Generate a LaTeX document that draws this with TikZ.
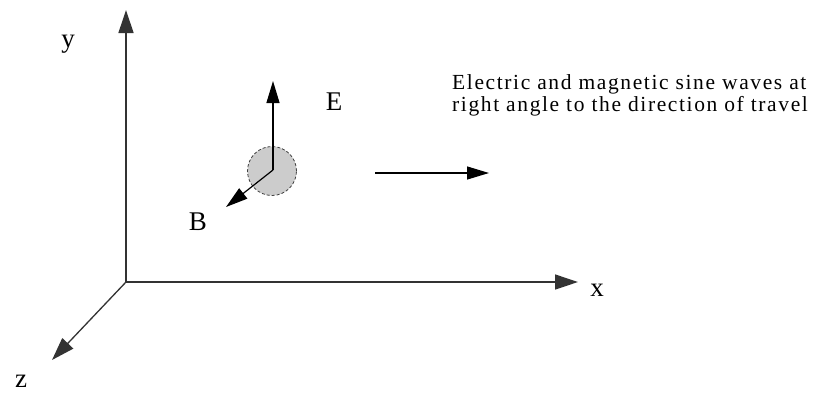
\documentclass[tikz,border=0pt]{standalone}
\usepackage{fontspec}
\setmainfont{Liberation Serif}
\newfontfamily\spacedserif[LetterSpace=7.5]{Liberation Serif}
\usetikzlibrary{arrows.meta}
\begin{document}
\begin{tikzpicture}[x=1pt,y=-1pt,
  axis/.style={line width=1.3pt,draw=black!80,-{Triangle[length=23pt,width=15pt]}},
  vec/.style={line width=1.2pt,-{Triangle[length=22pt,width=13pt]}},
  lab/.style={font=\fontsize{27}{27}\selectfont,inner sep=0pt},
  note/.style={font=\spacedserif\fontsize{21.5}{22}\selectfont,inner sep=0pt,align=left,anchor=north west}]
\useasboundingbox (0,0) rectangle (819,405);
\coordinate (O) at (126,282); \coordinate (X) at (578,282);
\coordinate (Y) at (126,10); \coordinate (Z) at (52,360);
\coordinate (C) at (273,170); \coordinate (Et) at (273,81); \coordinate (Bt) at (226,207);
\coordinate (Ts) at (375,173); \coordinate (Te) at (489,173);
\draw[axis] (O)--(X);
\draw[axis] (O)--(Y);
\draw[axis] (O)--(Z);
\node[lab] (xl) at (597,290) {x};
\node[lab] (yl) at (68,44) {y};
\node[lab] (zl) at (21,381) {z};
\node[circle,fill=black!20,draw=black!75,densely dashed,line width=0.8pt,minimum size=49pt] (wave) at (272,171) {};
\draw[vec] (C)--(Et);
\draw[vec] (C)--(Bt);
\node[lab] (El) at (334,102) {E};
\node[lab] (Bl) at (198,222) {B};
\draw[vec] (Ts)--(Te);
\node[note] (txt) at (452,74) {Electric and magnetic sine waves at\\right angle to the direction of travel};
\end{tikzpicture}
\end{document}
